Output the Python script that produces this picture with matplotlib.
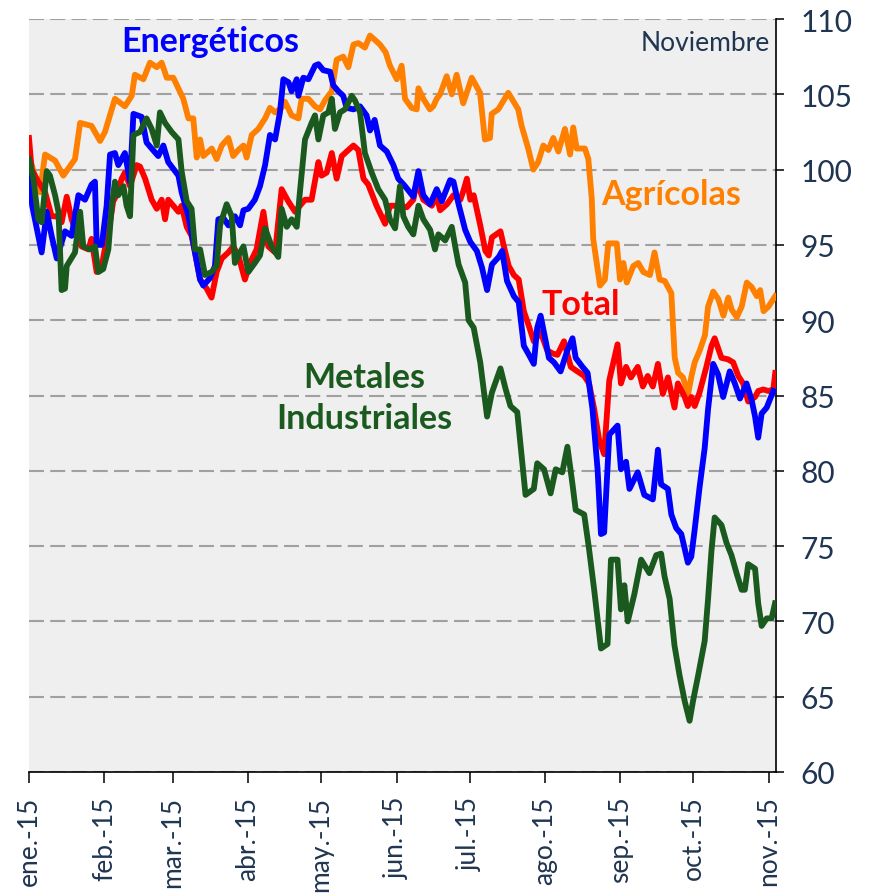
import numpy as np
import pandas as pd
import matplotlib
matplotlib.use('Agg')
import matplotlib.pyplot as plt

plt.rcParams['font.family'] = ['Lato', 'DejaVu Sans']

START = pd.Timestamp('2015-01-01')
NAVY = '#1f3552'

# days counted from 1 Jan 2015, index values
agr_days = [0, 4.5, 6.6, 10.7, 14.1, 18.9, 21.0, 25.7, 29.2, 31.2, 35.3, 39.4, 42.2, 43.5, 47.0,
            49.7, 52.5, 54.5, 56.6, 59.3, 63.4, 65.5, 67.5, 68.9, 70.3, 71.6, 75.1, 77.1, 79.2,
            81.9, 83.9, 86.0, 88.1, 89.4, 91.5, 94.2, 97.0, 99.0, 101.1, 103.8, 105.2, 107.9,
            110.7, 112.0, 114.8, 117.5, 119.6, 121.6, 124.4, 126.4, 129.1, 131.2, 133.3, 135.3,
            138.0, 140.1, 142.2, 144.2, 146.5, 148.3, 151.1, 153.1, 154.5, 157.2, 159.3, 160.0,
            162.0, 164.7, 166.1, 167.5, 168.9, 171.6, 173.7, 175.7, 178.4, 181.9, 185.3, 187.3,
            189.4, 190.1, 192.8, 196.9, 201.0, 202.4, 205.1, 207.2, 209.2, 211.3, 213.4, 215.4,
            217.5, 220.2, 222.3, 223.6, 225.0, 228.4, 229.8, 231.2, 231.8, 234.6, 236.6, 238.0,
            241.5, 242.8, 244.2, 245.6, 248.3, 250.3, 252.4, 255.1, 257.0, 259.1, 261.2, 263.9,
            265.3, 266.7, 268.7, 270.8, 272.2, 273.5, 275.6, 277.7, 279.0, 281.1, 283.2, 285.3,
            287.3, 288.7, 290.8, 292.8, 294.9, 296.9, 299.0, 300.4, 301.8, 303.8, 306.6]
agr_vals = [100.9, 98.5, 101.0, 100.6, 99.6, 100.7, 103.1, 102.9, 101.9, 102.5, 104.7, 104.2, 104.9,
            106.3, 106.0, 107.1, 106.8, 107.1, 106.1, 106.1, 104.7, 103.4, 103.4, 100.8, 102.0,
            100.9, 101.4, 100.7, 101.6, 102.1, 100.9, 101.3, 101.6, 100.8, 102.3, 102.7, 103.4,
            104.1, 103.8, 104.1, 104.5, 103.6, 103.4, 104.7, 104.7, 104.2, 104.0, 104.6, 105.2,
            107.3, 107.5, 106.8, 108.3, 108.4, 108.1, 108.9, 108.6, 108.3, 107.8, 106.9, 106.0,
            106.9, 104.7, 104.1, 104.0, 105.4, 104.7, 104.0, 104.2, 104.7, 105.0, 106.2, 105.0,
            106.3, 104.4, 106.1, 105.1, 102.0, 102.1, 103.7, 104.0, 105.1, 104.0, 102.9, 101.4,
            100.0, 100.5, 101.6, 101.3, 102.1, 101.2, 102.7, 101.0, 102.8, 101.4, 101.4, 100.7,
            98.1, 95.4, 92.3, 92.7, 95.1, 95.1, 92.7, 93.8, 92.5, 93.6, 93.8, 93.2, 93.0, 94.5,
            92.7, 92.6, 91.8, 87.5, 86.5, 86.2, 85.1, 86.3, 87.2, 88.0, 89.0, 90.9, 91.9, 91.4,
            90.3, 91.5, 90.7, 90.2, 90.9, 92.5, 92.2, 91.6, 92.0, 90.6, 90.9, 91.6]

tot_days = [0, 1.1, 3.8, 6.6, 9.3, 11.4, 13.4, 15.5, 17.5, 19.6, 21.6, 24.4, 25.7, 27.8, 29.9, 31.9,
            33.3, 34.6, 36.0, 38.1, 39.4, 41.5, 44.2, 45.6, 47.7, 50.4, 52.5, 54.5, 55.9, 57.2, 59.3,
            61.4, 62.7, 64.8, 66.8, 68.2, 70.3, 73.0, 75.0, 77.1, 79.2, 81.9, 83.9, 86.0, 88.7, 90.8,
            93.5, 96.3, 98.3, 101.1, 103.8, 106.5, 109.3, 111.3, 113.4, 116.1, 118.9, 120.2, 122.3,
            124.4, 126.4, 128.5, 130.5, 131.9, 133.3, 135.3, 137.4, 139.4, 142.8, 146.3, 148.3,
            151.7, 155.2, 157.9, 159.3, 162.0, 165.5, 167.5, 168.9, 171.7, 174.4, 177.2, 178.5,
            179.9, 181.3, 182.7, 185.4, 187.5, 188.9, 190.2, 193.7, 195.1, 197.1, 199.2, 201.2,
            203.3, 205.4, 207.4, 210.2, 212.9, 215.0, 217.1, 219.8, 222.6, 225.3, 228.1, 230.1,
            232.2, 234.3, 236.3, 238.4, 240.5, 241.8, 243.2, 245.3, 247.3, 250.1, 252.2, 254.2,
            256.3, 258.4, 260.4, 262.5, 265.2, 266.6, 269.4, 270.7, 272.1, 273.5, 275.5, 278.3,
            280.4, 281.7, 284.5, 287.2, 289.3, 291.4, 293.4, 295.5, 298.3, 299.6, 301.7, 303.8,
            305.8, 306.6]
tot_vals = [102.1, 100.0, 99.2, 98.5, 96.9, 96.9, 96.5, 98.2, 96.7, 95.8, 94.9, 94.7, 95.4, 93.2,
            93.6, 95.4, 96.5, 97.9, 98.3, 99.4, 99.8, 98.9, 100.3, 100.2, 99.4, 98.0, 97.4, 98.0,
            96.7, 98.0, 97.6, 97.2, 97.6, 96.2, 95.6, 94.5, 92.7, 92.1, 91.5, 93.2, 94.1, 94.5,
            94.9, 94.3, 92.7, 93.8, 94.7, 97.2, 94.9, 94.5, 98.7, 97.9, 97.2, 97.6, 98.0, 98.0,
            100.5, 99.6, 99.8, 101.1, 99.4, 100.9, 101.2, 101.4, 101.6, 101.3, 99.4, 99.0, 97.6,
            96.4, 97.6, 97.6, 97.5, 98.0, 99.2, 98.0, 97.6, 98.3, 97.3, 97.7, 98.3, 98.0, 98.6,
            99.4, 98.0, 98.3, 96.3, 94.6, 94.3, 95.5, 95.9, 94.9, 93.6, 93.0, 92.7, 90.6, 89.6,
            88.6, 89.2, 88.0, 87.8, 87.7, 88.6, 86.9, 86.6, 86.3, 85.8, 84.1, 82.0, 81.1, 86.0,
            87.5, 88.4, 85.8, 86.9, 86.2, 86.9, 85.6, 86.3, 85.6, 87.1, 85.1, 86.2, 84.2, 85.8,
            84.9, 84.3, 84.9, 84.3, 85.2, 86.9, 88.3, 88.8, 87.5, 87.4, 87.2, 86.3, 85.8, 84.6,
            84.9, 85.3, 85.4, 85.3, 85.4, 86.5]

ene_days = [0, 1.3, 5.2, 7.3, 9.3, 11.4, 14.8, 17.5, 20.3, 23.0, 25.7, 27.1, 27.8, 29.9, 31.9, 33.3,
            35.3, 36.7, 39.4, 41.5, 42.9, 46.3, 48.3, 50.4, 53.1, 55.2, 57.2, 61.4, 62.7, 65.5,
            68.2, 70.3, 71.6, 74.4, 76.4, 77.8, 79.8, 81.9, 84.6, 86.7, 88.1, 90.1, 92.8, 94.9,
            97.0, 99.0, 101.1, 103.1, 104.5, 106.6, 107.9, 110.0, 110.7, 112.7, 114.8, 117.5,
            118.9, 120.9, 123.7, 125.0, 127.1, 129.1, 130.5, 133.3, 136.0, 138.7, 140.1, 142.0,
            144.2, 147.0, 149.7, 151.7, 154.5, 157.9, 160.0, 162.0, 164.8, 167.5, 169.6, 173.0,
            174.4, 176.5, 179.2, 181.3, 184.0, 186.1, 188.2, 190.2, 193.0, 194.4, 196.4, 199.2,
            201.2, 203.3, 205.4, 207.4, 208.8, 210.2, 212.3, 213.6, 215.7, 218.4, 221.2, 223.3,
            224.6, 227.4, 229.5, 231.5, 233.6, 235.0, 236.3, 238.4, 241.8, 243.2, 245.3, 246.7,
            250.1, 252.8, 256.3, 258.4, 259.7, 262.5, 263.9, 265.9, 268.0, 270.7, 272.1, 273.5,
            275.5, 277.6, 279.0, 281.1, 283.1, 285.2, 287.9, 290.0, 292.1, 294.8, 296.9, 298.3,
            299.6, 301.0, 303.1, 305.8]
ene_vals = [100.3, 97.6, 94.5, 97.2, 95.6, 94.1, 95.9, 95.6, 98.3, 98.0, 99.0, 99.2, 95.0, 95.0,
            97.6, 101.0, 101.1, 100.3, 101.1, 99.2, 103.7, 103.5, 101.8, 101.4, 100.9, 101.6,
            100.5, 99.6, 98.5, 96.9, 94.5, 92.7, 92.3, 92.8, 93.6, 96.7, 96.8, 96.3, 96.9, 96.3,
            97.3, 97.4, 98.0, 98.9, 100.3, 102.3, 102.0, 103.8, 106.0, 105.8, 105.2, 106.0, 104.9,
            106.1, 106.0, 106.9, 107.0, 106.6, 106.5, 105.6, 105.2, 104.9, 104.1, 104.0, 104.2,
            103.6, 102.6, 103.3, 101.6, 101.2, 100.3, 99.4, 98.9, 98.2, 99.9, 98.3, 97.7, 98.7,
            97.9, 99.3, 99.2, 97.7, 96.0, 95.2, 94.6, 93.5, 92.0, 93.7, 94.2, 94.6, 92.6, 91.6,
            91.2, 88.3, 87.7, 87.1, 89.5, 90.3, 88.6, 87.5, 87.2, 86.6, 88.0, 88.8, 87.5, 86.9,
            86.5, 84.1, 80.1, 75.8, 75.9, 82.4, 83.0, 80.1, 80.6, 78.8, 79.9, 78.4, 78.1, 81.4,
            79.1, 78.8, 77.1, 76.2, 75.8, 73.9, 74.3, 76.1, 78.9, 81.5, 84.1, 87.1, 86.4, 84.9,
            86.6, 85.8, 84.8, 85.8, 84.7, 83.6, 82.2, 83.8, 84.2, 85.3]

met_days = [0, 1.8, 3.8, 5.2, 7.3, 8.6, 10.7, 12.1, 13.4, 14.8, 15.5, 18.9, 21.0, 22.3, 25.1, 27.1,
            28.5, 30.5, 32.6, 34.0, 35.3, 36.7, 38.8, 40.1, 41.5, 42.9, 45.6, 48.3, 50.4, 52.5,
            53.8, 55.9, 58.6, 61.4, 62.7, 64.8, 66.8, 68.2, 70.3, 72.3, 75.0, 77.1, 78.5, 81.2,
            83.3, 84.6, 86.7, 88.1, 90.1, 92.8, 94.9, 97.0, 99.7, 102.4, 103.8, 105.9, 107.9,
            110.0, 111.3, 113.4, 116.1, 117.5, 118.9, 120.9, 123.0, 124.4, 125.7, 127.8, 129.8,
            132.6, 133.9, 136.0, 138.0, 140.8, 143.5, 146.3, 148.3, 150.4, 152.4, 153.8, 155.8,
            157.9, 160.0, 162.0, 164.8, 166.8, 168.2, 171.0, 173.7, 175.1, 176.5, 179.2, 180.6,
            182.7, 185.4, 188.2, 190.2, 193.7, 195.7, 197.8, 200.6, 201.9, 204.0, 207.4, 208.8,
            211.6, 214.3, 216.4, 219.1, 221.2, 223.3, 224.6, 228.1, 230.1, 232.2, 235.0, 237.7,
            239.1, 241.8, 243.2, 244.6, 246.0, 248.7, 251.5, 254.9, 257.7, 259.7, 261.1, 263.2,
            265.2, 267.3, 269.4, 271.4, 272.8, 274.9, 277.6, 279.0, 280.4, 281.7, 284.5, 286.6,
            288.6, 290.7, 292.8, 294.1, 295.5, 298.3, 299.6, 301.0, 303.1, 305.1, 306.5]
met_vals = [100.7, 99.4, 96.7, 96.5, 99.9, 99.6, 98.3, 97.2, 92.0, 92.1, 93.6, 94.5, 97.2, 94.9,
            94.7, 94.9, 93.2, 93.4, 94.7, 97.6, 99.2, 98.3, 98.9, 97.6, 96.9, 102.3, 102.5, 103.4,
            102.7, 101.6, 103.8, 103.1, 102.5, 102.0, 99.9, 97.9, 97.4, 94.7, 94.7, 93.0, 93.2,
            93.6, 96.3, 97.7, 96.9, 93.8, 94.5, 94.9, 93.2, 93.8, 94.3, 96.1, 94.9, 94.2, 97.4,
            96.2, 96.7, 96.2, 98.5, 102.0, 103.1, 103.6, 102.0, 103.6, 103.8, 104.7, 102.7, 103.8,
            104.0, 104.9, 104.6, 103.8, 101.1, 99.8, 98.7, 98.0, 96.7, 96.1, 98.9, 96.9, 96.2,
            95.7, 97.6, 96.7, 96.0, 94.7, 95.7, 95.3, 96.2, 94.9, 93.7, 92.5, 90.0, 89.5, 87.2,
            83.6, 85.2, 86.8, 85.5, 84.3, 83.9, 81.8, 78.4, 78.8, 80.5, 80.1, 78.5, 80.1, 79.9,
            81.6, 79.1, 77.4, 77.1, 74.8, 72.1, 68.2, 68.5, 74.1, 74.1, 70.8, 72.4, 70.0, 71.8,
            74.1, 73.2, 74.4, 74.5, 73.0, 71.5, 68.4, 66.4, 64.7, 63.4, 64.7, 66.4, 68.7, 71.5,
            74.7, 76.9, 76.4, 75.2, 74.4, 73.2, 72.1, 72.1, 73.8, 73.5, 71.2, 69.7, 70.2, 70.2,
            71.2]

month_labels = ['ene.-15', 'feb.-15', 'mar.-15', 'abr.-15', 'may.-15', 'jun.-15',
                'jul.-15', 'ago.-15', 'sep.-15', 'oct.-15', 'nov.-15']


def to_dates(days):
    return START + pd.to_timedelta(np.array(days), unit='D')


fig = plt.figure(figsize=(8.69, 8.95), dpi=100)
ax = fig.add_axes([29 / 869, 1 - 773 / 895, 746.5 / 869, 753 / 895])
ax.set_facecolor('#efefef')

series = [
    (agr_days, agr_vals, '#ff8000'),
    (tot_days, tot_vals, '#ff0000'),
    (ene_days, ene_vals, '#0000ff'),
    (met_days, met_vals, '#1a5a1e'),
]
for i, (d, v, c) in enumerate(series):
    ax.plot(to_dates(d), v, color=c, lw=4.2, solid_joinstyle='round', zorder=3 + i)

ax.set_ylim(60, 110)
ax.set_xlim(START, START + pd.Timedelta(days=306.7))
ax.set_yticks(range(60, 111, 5))
ax.yaxis.tick_right()
ax.grid(axis='y', color='#a0a0a0', lw=1.5, linestyle=(0, (7.2, 3.0)), zorder=1)
ax.set_axisbelow(True)

month_ticks = pd.date_range('2015-01-01', periods=11, freq='MS')
ax.set_xticks(month_ticks)
ax.set_xticklabels(month_labels, rotation=90, fontsize=19, color=NAVY)
for lab in ax.get_yticklabels():
    lab.set_fontsize(21.5)
    lab.set_color(NAVY)

ax.tick_params(axis='x', direction='out', length=8, width=1.1, pad=9)
ax.tick_params(axis='y', direction='out', length=6, width=1.1, pad=12)
for s in ['left', 'top']:
    ax.spines[s].set_visible(False)
for s in ['bottom', 'right']:
    ax.spines[s].set_linewidth(1.2)
    ax.spines[s].set_color('black')

ax.text(0.2425, 0.971, 'Energéticos', transform=ax.transAxes, color='#0000ff',
        fontsize=24.5, fontweight='bold', ha='center', va='center', zorder=10)
ax.text(0.860, 0.768, 'Agrícolas', transform=ax.transAxes, color='#ff8000',
        fontsize=24.5, fontweight='bold', ha='center', va='center', zorder=10)
ax.text(0.739, 0.621, 'Total', transform=ax.transAxes, color='#ff0000',
        fontsize=24.5, fontweight='bold', ha='center', va='center', zorder=10)
ax.text(0.449, 0.497, 'Metales\nIndustriales', transform=ax.transAxes, color='#1a5a1e',
        fontsize=24.5, fontweight='bold', ha='center', va='center', linespacing=1.35, zorder=10)
ax.text(0.9926, 0.969, 'Noviembre', transform=ax.transAxes, color=NAVY,
        fontsize=19, ha='right', va='center', zorder=10)

fig.savefig('out.png', dpi=100)
